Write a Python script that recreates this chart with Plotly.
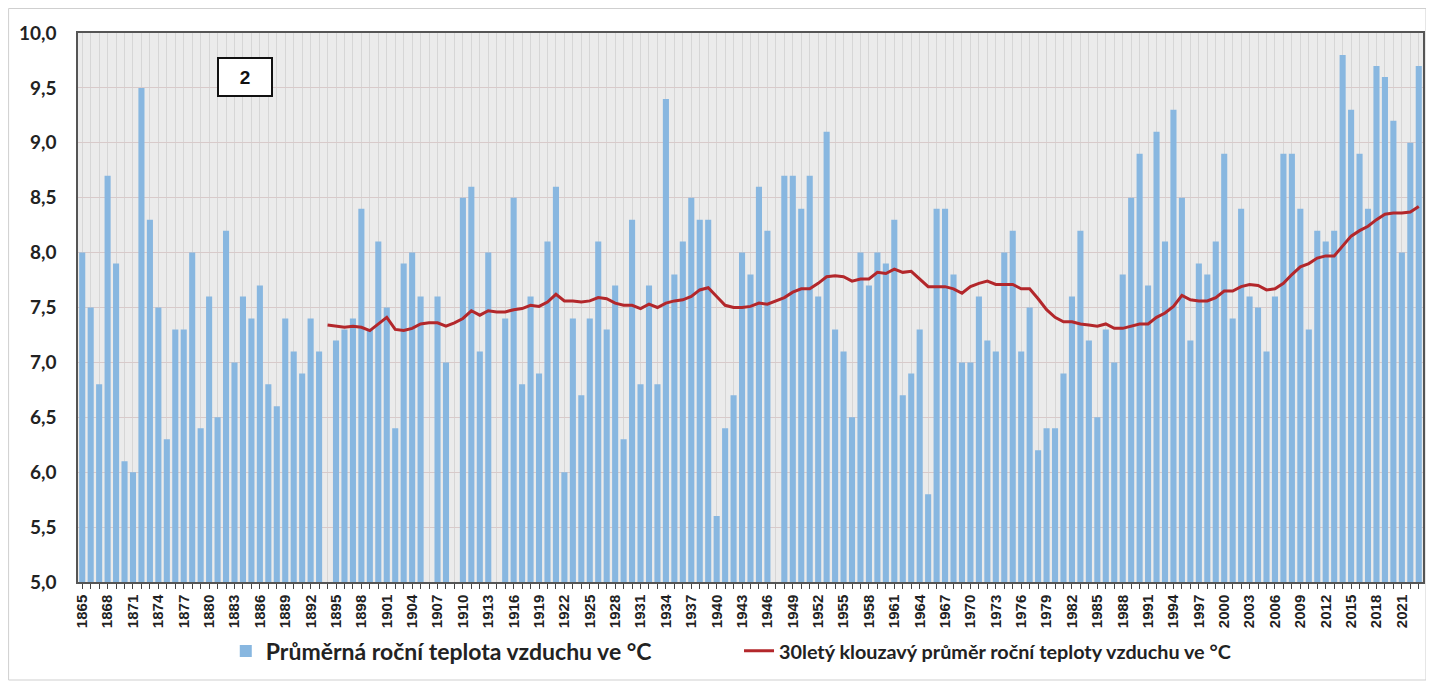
import plotly.graph_objects as go

years = list(range(1865, 2024))

annual_temp = [
    8.0, 7.5, 6.8, 8.7, 7.9, 6.1, 6.0, 9.5, 8.3, 7.5,   # 1865-1874
    6.3, 7.3, 7.3, 8.0, 6.4, 7.6, 6.5, 8.2, 7.0, 7.6,   # 1875-1884
    7.4, 7.7, 6.8, 6.6, 7.4, 7.1, 6.9, 7.4, 7.1, None,  # 1885-1894
    7.2, 7.3, 7.4, 8.4, 7.3, 8.1, 7.5, 6.4, 7.9, 8.0,   # 1895-1904
    7.6, None, 7.6, 7.0, None, 8.5, 8.6, 7.1, 8.0, None,  # 1905-1914
    7.4, 8.5, 6.8, 7.6, 6.9, 8.1, 8.6, 6.0, 7.4, 6.7,   # 1915-1924
    7.4, 8.1, 7.3, 7.7, 6.3, 8.3, 6.8, 7.7, 6.8, 9.4,   # 1925-1934
    7.8, 8.1, 8.5, 8.3, 8.3, 5.6, 6.4, 6.7, 8.0, 7.8,   # 1935-1944
    8.6, 8.2, None, 8.7, 8.7, 8.4, 8.7, 7.6, 9.1, 7.3,  # 1945-1954
    7.1, 6.5, 8.0, 7.7, 8.0, 7.9, 8.3, 6.7, 6.9, 7.3,   # 1955-1964
    5.8, 8.4, 8.4, 7.8, 7.0, 7.0, 7.6, 7.2, 7.1, 8.0,   # 1965-1974
    8.2, 7.1, 7.5, 6.2, 6.4, 6.4, 6.9, 7.6, 8.2, 7.2,   # 1975-1984
    6.5, 7.3, 7.0, 7.8, 8.5, 8.9, 7.7, 9.1, 8.1, 9.3,   # 1985-1994
    8.5, 7.2, 7.9, 7.8, 8.1, 8.9, 7.4, 8.4, 7.6, 7.5,   # 1995-2004
    7.1, 7.6, 8.9, 8.9, 8.4, 7.3, 8.2, 8.1, 8.2, 9.8,   # 2005-2014
    9.3, 8.9, 8.4, 9.7, 9.6, 9.2, 8.0, 9.0, 9.7,        # 2015-2023
]

ma_years = list(range(1894, 2024))
moving_avg = [
    7.34, 7.33, 7.32, 7.33, 7.32, 7.29, 7.35, 7.41, 7.30, 7.29,  # 1894-1903
    7.31, 7.35, 7.36, 7.36, 7.33, 7.36, 7.40, 7.47, 7.43, 7.47,  # 1904-1913
    7.46, 7.46, 7.48, 7.49, 7.52, 7.51, 7.55, 7.62, 7.56, 7.56,  # 1914-1923
    7.55, 7.56, 7.59, 7.58, 7.54, 7.52, 7.52, 7.49, 7.53, 7.50,  # 1924-1933
    7.54, 7.56, 7.57, 7.60, 7.66, 7.68, 7.60, 7.52, 7.50, 7.50,  # 1934-1943
    7.51, 7.54, 7.53, 7.56, 7.59, 7.64, 7.67, 7.67, 7.72, 7.78,  # 1944-1953
    7.79, 7.78, 7.74, 7.76, 7.76, 7.82, 7.81, 7.85, 7.82, 7.83,  # 1954-1963
    7.76, 7.69, 7.69, 7.69, 7.67, 7.63, 7.69, 7.72, 7.74, 7.71,  # 1964-1973
    7.71, 7.71, 7.67, 7.67, 7.58, 7.48, 7.41, 7.37, 7.37, 7.35,  # 1974-1983
    7.34, 7.33, 7.35, 7.31, 7.31, 7.33, 7.35, 7.35, 7.41, 7.45,  # 1984-1993
    7.51, 7.61, 7.57, 7.56, 7.56, 7.59, 7.65, 7.65, 7.69, 7.71,  # 1994-2003
    7.70, 7.66, 7.67, 7.72, 7.80, 7.87, 7.90, 7.95, 7.97, 7.97,  # 2004-2013
    8.06, 8.15, 8.20, 8.24, 8.30, 8.35, 8.36, 8.36, 8.37, 8.42,  # 2014-2023
]

tick_years = list(range(1865, 2024, 3))
tick_labels = [str(y) for y in tick_years]
y_ticks = [5.0, 5.5, 6.0, 6.5, 7.0, 7.5, 8.0, 8.5, 9.0, 9.5, 10.0]

bar_name = "Průměrná roční teplota vzduchu ve °C"
line_name = "30letý klouzavý průměr roční teploty vzduchu ve °C"
panel_label = "2"

# page body has an 8px margin: work in screen coords and convert
OFF = 8
W, H = 1434 - OFF, 684 - OFF
S_L, S_R, S_T, S_B = 78, 1425, 33, 582
L, T = S_L - OFF, S_T - OFF
R = W - (S_R - OFF)
B = H - (S_B - OFF)
pw, ph = W - L - R, H - T - B

def px(sx):
    return (sx - OFF - L) / pw

def py(sy):
    return (H - B - (sy - OFF)) / ph

fig = go.Figure()
fig.add_trace(go.Bar(
    x=years, y=annual_temp, name=bar_name,
    marker=dict(color="#88b7e0", line=dict(width=0)),
    width=0.72, legend="legend",
))
fig.add_trace(go.Scatter(
    x=ma_years, y=moving_avg, name=line_name, mode="lines",
    line=dict(color="#b3272b", width=3), legend="legend2",
))

fig.update_layout(
    width=W, height=H,
    margin=dict(l=L, r=R, t=T, b=B),
    paper_bgcolor="white",
    plot_bgcolor="#ebebeb",
    separators=", ",
    font=dict(family="Lato, Liberation Sans, sans-serif", color="#222222"),
    showlegend=True,
    legend=dict(
        orientation="h", x=px(226), xanchor="left", y=py(651), yanchor="middle",
        font=dict(size=23, weight="bold", family="Lato, sans-serif", color="#222222"),
        bgcolor="rgba(0,0,0,0)",
    ),
    legend2=dict(
        orientation="h", x=px(740), xanchor="left", y=py(651), yanchor="middle",
        font=dict(size=19.8, weight="bold", family="Lato, sans-serif", color="#222222"),
        bgcolor="rgba(0,0,0,0)",
    ),
    xaxis=dict(
        range=[1864.5, 2023.5],
        tickmode="array", tickvals=tick_years, ticktext=tick_labels,
        tickangle=-90,
        tickfont=dict(size=15, weight="bold", family="Liberation Sans, Arial, sans-serif", color="#222222"),
        ticks="outside", ticklen=5, tickcolor="#444444",
        showgrid=True, gridcolor="#d6d6d6", gridwidth=1,
        minor=dict(ticks="outside", dtick=1, tick0=1865, ticklen=5, tickcolor="#444444",
                   showgrid=True, gridcolor="#d6d6d6"),
        showline=True, linecolor="#555555", linewidth=1.5, mirror=True,
        zeroline=False,
    ),
    yaxis=dict(
        range=[5, 10],
        tickmode="array", tickvals=y_ticks,
        tickformat=".1f",
        tickfont=dict(size=19, weight="bold", family="Lato, sans-serif", color="#222222"),
        ticks="outside", ticklen=16, tickcolor="rgba(0,0,0,0)",
        showgrid=True, gridcolor="#d8caca", gridwidth=1,
        showline=True, linecolor="#555555", linewidth=1.5, mirror=True,
        zeroline=False,
    ),
    shapes=[dict(
        type="rect", xref="paper", yref="paper",
        x0=px(8.5), x1=px(1428), y0=py(680), y1=py(8.5),
        line=dict(color="#cfcfcf", width=1), fillcolor="rgba(0,0,0,0)", layer="below",
    )],
    annotations=[dict(
        text="<b>" + panel_label + "</b>", xref="paper", yref="paper",
        x=px(245), y=py(77), xanchor="center", yanchor="middle",
        showarrow=False, font=dict(size=19, color="#111111", family="Liberation Sans, Arial, sans-serif"),
        bgcolor="white", bordercolor="#111111", borderwidth=2,
        width=50, height=34,
    )],
)

fig.write_html("out.html")
